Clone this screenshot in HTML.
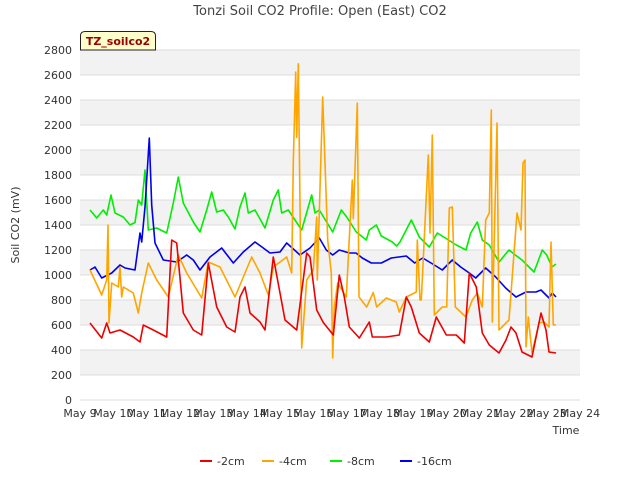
<!DOCTYPE html>
<html><head><meta charset="utf-8"><style>
body{margin:0;background:#fff;font-family:"Liberation Sans","DejaVu Sans",sans-serif}
svg text{font-family:"DejaVu Sans","Liberation Sans",sans-serif}
</style></head><body>
<svg id="chart" width="640" height="480" xmlns="http://www.w3.org/2000/svg">
<g id="bands"></g><g id="grid"></g><g id="series"></g><g id="axes"></g>
</svg>
<script>
const tickLabels=["May 9","May 10","May 11","May 12","May 13","May 14","May 15","May 16","May 17","May 18","May 19","May 20","May 21","May 22","May 23","May 24"];
const yTicks=[0,200,400,600,800,1000,1200,1400,1600,1800,2000,2200,2400,2600,2800];
const redDays=[0.3,0.65,0.8,0.9,1.2,1.6,1.8,1.9,2.2,2.6,2.75,2.9,3.1,3.4,3.65,3.85,4.1,4.4,4.65,4.8,4.95,5.1,5.4,5.55,5.8,6.0,6.15,6.5,6.8,6.9,7.1,7.3,7.6,7.78,7.93,8.08,8.38,8.68,8.77,9.19,9.58,9.79,9.94,10.18,10.48,10.69,10.99,11.29,11.53,11.68,11.89,12.07,12.28,12.57,12.78,12.93,13.08,13.26,13.56,13.83,13.98,14.07,14.28];
const redVals=[616,496,616,536,560,504,464,600,560,504,1280,1256,696,560,520,1096,744,584,544,824,904,696,624,560,1144,856,640,560,1176,1144,720,620,520,1000,824,584,496,624,504,504,520,824,744,536,464,664,520,520,456,1016,904,536,440,376,480,584,536,384,344,696,560,384,376];
const orangeDays=[0.3,0.65,0.8,0.84,0.87,0.95,1.15,1.2,1.25,1.3,1.6,1.75,1.85,2.05,2.3,2.65,2.95,3.2,3.65,3.85,4.2,4.65,5.15,5.4,5.65,5.8,6.2,6.35,6.4,6.47,6.5,6.55,6.65,6.8,7.0,7.1,7.12,7.28,7.43,7.54,7.58,7.63,7.73,7.99,8.17,8.2,8.32,8.37,8.6,8.8,8.9,9.19,9.49,9.58,9.79,10.09,10.12,10.15,10.2,10.24,10.45,10.5,10.57,10.63,10.87,11.0,11.08,11.17,11.26,11.58,11.77,11.92,12.07,12.17,12.28,12.34,12.37,12.51,12.57,12.87,13.11,13.23,13.29,13.35,13.38,13.45,13.56,13.77,13.92,14.07,14.13,14.2,14.28];
const orangeVals=[1040,840,960,1400,616,936,904,1064,824,904,856,696,856,1096,960,824,1160,1016,816,1104,1064,824,1144,1016,840,1064,1144,1016,1904,2624,2100,2690,416,960,1040,1464,960,2424,1280,1016,336,744,936,824,1760,1450,2376,824,744,860,744,816,784,704,824,864,1280,1096,800,800,1960,1336,2120,680,744,744,1536,1544,744,664,800,856,744,1440,1496,2320,624,2216,560,640,1496,1360,1896,1920,424,664,376,616,624,584,1264,600,600];
const greenDays=[0.3,0.5,0.7,0.8,0.93,1.05,1.3,1.5,1.65,1.75,1.85,1.95,2.05,2.3,2.6,2.8,2.95,3.1,3.4,3.6,3.8,3.95,4.1,4.3,4.45,4.65,4.8,4.95,5.05,5.25,5.55,5.8,5.95,6.05,6.25,6.65,6.95,7.05,7.18,7.58,7.84,8.0,8.29,8.59,8.68,8.89,9.04,9.37,9.5,9.6,9.94,10.18,10.48,10.72,10.96,11.29,11.58,11.72,11.92,12.07,12.28,12.57,12.87,13.06,13.26,13.62,13.87,14.0,14.16,14.28];
const greenVals=[1520,1456,1520,1480,1640,1496,1464,1400,1420,1600,1560,1840,1360,1376,1336,1576,1784,1576,1424,1344,1520,1664,1504,1520,1464,1368,1544,1656,1496,1520,1376,1600,1680,1496,1520,1360,1640,1496,1520,1344,1520,1464,1344,1280,1360,1400,1312,1264,1232,1264,1440,1304,1224,1336,1296,1240,1200,1336,1424,1280,1240,1104,1200,1160,1120,1024,1200,1160,1064,1088];
const blueDays=[0.3,0.45,0.65,0.95,1.2,1.35,1.65,1.8,1.85,1.95,2.08,2.15,2.25,2.5,2.9,3.2,3.4,3.6,3.9,4.25,4.6,4.9,5.25,5.5,5.7,6.0,6.2,6.6,6.9,7.18,7.39,7.58,7.78,8.08,8.28,8.47,8.74,9.04,9.34,9.79,10.04,10.28,10.58,10.87,11.17,11.42,11.68,11.87,12.17,12.47,12.77,13.08,13.38,13.68,13.83,14.07,14.17,14.28];
const blueVals=[1040,1064,976,1016,1080,1056,1040,1336,1264,1544,2096,1560,1256,1120,1104,1160,1120,1040,1144,1216,1096,1184,1264,1216,1176,1184,1256,1160,1216,1296,1200,1160,1200,1176,1176,1136,1096,1096,1136,1152,1096,1136,1088,1040,1120,1064,1016,976,1056,984,896,824,864,864,880,816,856,824];

const X0=80,X1=580,Y0=400,Y1=50,YMAX=2800,DAYS=15;
const xs=d=>X0+d/DAYS*(X1-X0);
const ys=v=>Y0-v/YMAX*(Y0-Y1);
const NS="http://www.w3.org/2000/svg";
function mk(tag,attrs,parent,txt){const e=document.createElementNS(NS,tag);for(const k in attrs)e.setAttribute(k,attrs[k]);if(txt!==undefined)e.textContent=txt;parent.appendChild(e);return e;}
const bands=document.getElementById('bands'),grid=document.getElementById('grid'),ser=document.getElementById('series'),ax=document.getElementById('axes');
for(let i=0;i<yTicks.length-1;i++){
  if(i%2===1){const r=mk('rect',{x:X0,y:ys(yTicks[i+1]),width:X1-X0,height:ys(yTicks[i])-ys(yTicks[i+1]),fill:'#f2f2f2'},bands);
  
  }
}
yTicks.forEach(v=>{
  const l=mk('line',{x1:X0,x2:X1,y1:ys(v),y2:ys(v),stroke:'#dcdcdc','stroke-width':1},grid);
  
  
  const t=mk('text',{x:X0-8,y:ys(v)+4,'text-anchor':'end','font-size':11,fill:'#333'},ax,String(v));
  
  
});
tickLabels.forEach((s,i)=>{
  const t=mk('text',{x:xs(i),y:417,'text-anchor':'middle','font-size':11,fill:'#333'},ax,s);
  
  
});
function line(days,vals,color,name){
  const p=mk('polyline',{points:days.map((d,i)=>xs(d).toFixed(1)+','+ys(vals[i]).toFixed(1)).join(' '),fill:'none',stroke:color,'stroke-width':1.6,'stroke-linejoin':'round'},ser);
  
  
}
line(greenDays,greenVals,'#00ee00','series-8cm');
line(blueDays,blueVals,'#0000ee','series-16cm');
line(orangeDays,orangeVals,'#ffa500','series-4cm');
line(redDays,redVals,'#ee0000','series-2cm');
let t=mk('text',{x:320,y:15,'text-anchor':'middle','font-size':13,fill:'#444'},ax,'Tonzi Soil CO2 Profile: Open (East) CO2');


t=mk('text',{x:19,y:225,'text-anchor':'middle','font-size':11,fill:'#333',transform:'rotate(-90 19 225)'},ax,'Soil CO2 (mV)');


t=mk('text',{x:566,y:434,'text-anchor':'middle','font-size':11,fill:'#333'},ax,'Time');


const g=mk('g',{},ax);


mk('path',{d:'M80.5,50 L80.5,36 Q80.5,31.5 85,31.5 L151,31.5 Q155.5,31.5 155.5,36 L155.5,50 Z',fill:'#ffffcc',stroke:'#222','stroke-width':1},g);
mk('text',{x:118,y:45,'text-anchor':'middle','font-size':11,'font-weight':'bold',fill:'#990000'},g,'TZ_soilco2');
const leg=[['-2cm','#ee0000',200],['-4cm','#ffa500',262],['-8cm','#00ee00',330],['-16cm','#0000ee',400]];
leg.forEach(([s,c,x])=>{
  const e=mk('g',{},ax);
  
  
  mk('line',{x1:x,x2:x+12,y1:461,y2:461,stroke:c,'stroke-width':2},e);
  mk('text',{x:x+17,y:465,'font-size':11,fill:'#333'},e,s);
});
</script>
</body></html>
